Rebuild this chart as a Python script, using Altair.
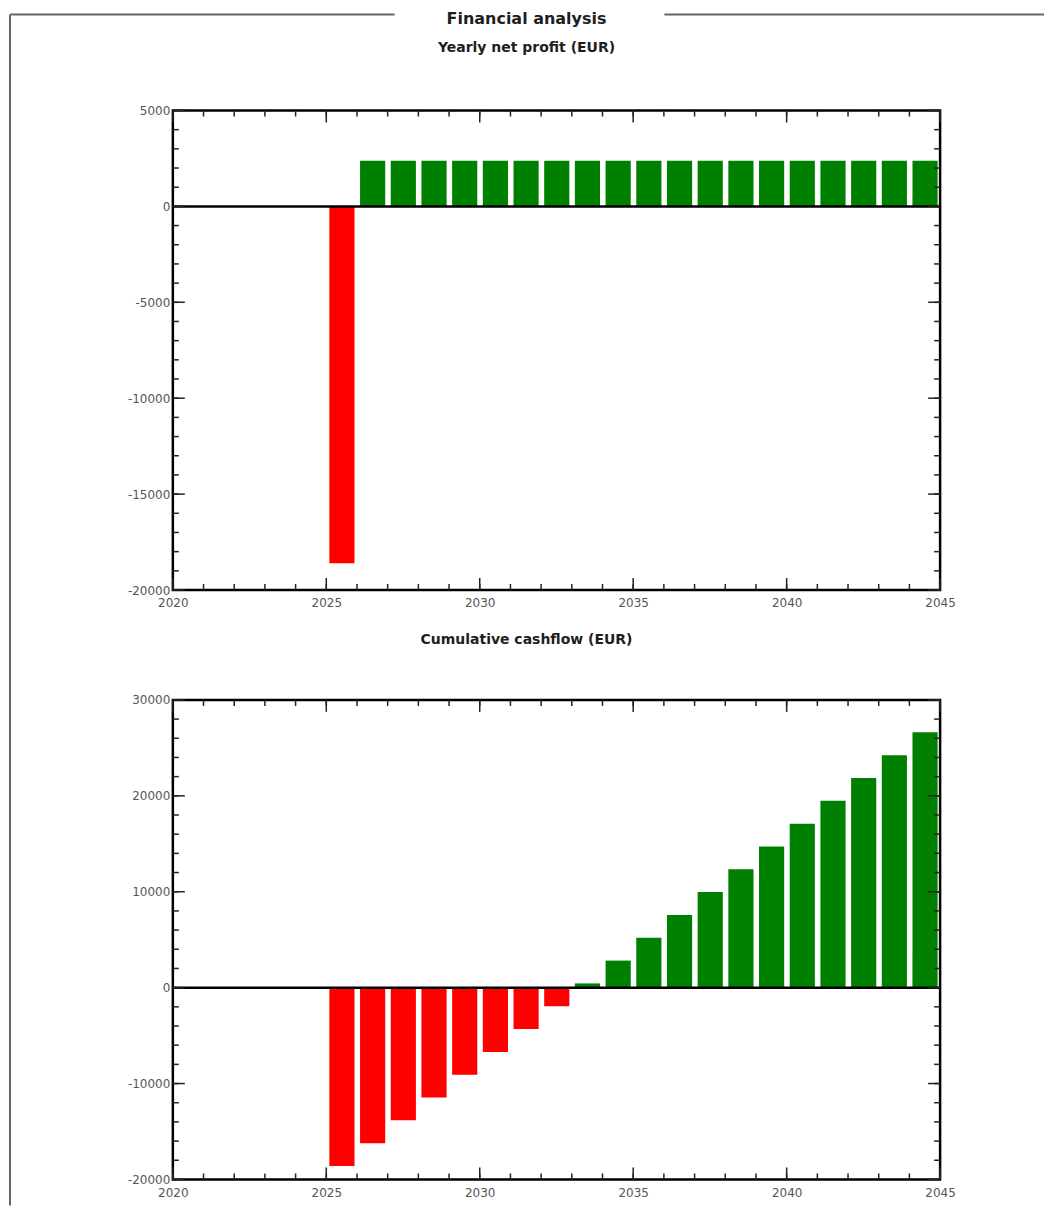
import altair as alt
import pandas as pd

# ---- data -----------------------------------------------------------------
years = [2025, 2026, 2027, 2028, 2029, 2030, 2031, 2032, 2033, 2034,
         2035, 2036, 2037, 2038, 2039, 2040, 2041, 2042, 2043, 2044]
yearly_profit = [-18600, 2380, 2380, 2380, 2380, 2380, 2380, 2380, 2380, 2380,
                 2380, 2380, 2380, 2380, 2380, 2380, 2380, 2380, 2380, 2380]
cumulative_cashflow = [-18600, -16220, -13840, -11460, -9080, -6700, -4320, -1940, 440, 2820,
                       5200, 7580, 9960, 12340, 14720, 17100, 19480, 21860, 24240, 26620]

x_domain = [2020, 2045]
x_major = [2020, 2025, 2030, 2035, 2040, 2045]
x_minor = list(range(2020, 2046))

profit_domain = [-20000, 5000]
profit_major = [-20000, -15000, -10000, -5000, 0, 5000]
profit_minor = list(range(-20000, 5001, 1000))

cash_domain = [-20000, 30000]
cash_major = [-20000, -10000, 0, 10000, 20000, 30000]
cash_minor = list(range(-20000, 30001, 2000))

# ---- styling ----------------------------------------------------------------
W, H = 768, 480
MAJOR_LEN, MINOR_LEN = 12, 6
TICK_COLOR = "#222222"
FRAME_COLOR = "#666666"
TEXT_COLOR = "#1e1e1e"
FONT = "DejaVu Sans"
TITLE_X = 354  # titles sit over the centre of the whole frame

one_row = pd.DataFrame({"k": [0]})


def panel(values, y_domain, y_major, y_minor, heading, heading_y, with_frame=False):
    xscale = alt.Scale(domain=x_domain, nice=False, zero=False)
    yscale = alt.Scale(domain=y_domain, nice=False, zero=False)
    xaxis = alt.Axis(values=x_major, ticks=False, domain=False, grid=False, title=None,
                     labelExpr="'' + datum.value", labelPadding=8, labelFlush=False)
    yaxis = alt.Axis(values=y_major, ticks=False, domain=False, grid=False, title=None,
                     labelExpr="'' + datum.value", labelPadding=3, labelFlush=False)

    bars_df = pd.DataFrame({"year": years, "value": values})
    bars_df["start"] = bars_df["year"] + 0.1
    bars_df["end"] = bars_df["year"] + 0.92

    bars = alt.Chart(bars_df).mark_bar().encode(
        x=alt.X("start:Q", scale=xscale, axis=xaxis),
        x2="end:Q",
        y=alt.Y("value:Q", scale=yscale, axis=yaxis),
        y2=alt.datum(0),
        color=alt.condition("datum.value < 0", alt.value("#ff0000"), alt.value("#008000")),
    )

    zero_line = alt.Chart(one_row).mark_rule(color="black", strokeWidth=2.5).encode(
        y=alt.datum(0)
    )

    layers = [bars, zero_line]

    # inward-pointing ticks on all four sides
    for tick_values, length in ((x_minor, MINOR_LEN), (x_major, MAJOR_LEN)):
        base = alt.Chart(pd.DataFrame({"t": tick_values})).mark_rule(
            color=TICK_COLOR, strokeWidth=1.5)
        xe = alt.X("t:Q", scale=xscale, axis=xaxis)
        layers.append(base.encode(x=xe, y=alt.value(H), y2=alt.value(H - length)))
        layers.append(base.encode(x=xe, y=alt.value(0), y2=alt.value(length)))
    for tick_values, length in ((y_minor, MINOR_LEN), (y_major, MAJOR_LEN)):
        base = alt.Chart(pd.DataFrame({"t": tick_values})).mark_rule(
            color=TICK_COLOR, strokeWidth=1.5)
        ye = alt.Y("t:Q", scale=yscale, axis=yaxis)
        layers.append(base.encode(y=ye, x=alt.value(0), x2=alt.value(length)))
        layers.append(base.encode(y=ye, x=alt.value(W), x2=alt.value(W - length)))

    layers.append(
        alt.Chart(one_row).mark_text(text=heading, font=FONT, fontSize=14, fontWeight="bold",
                                     color=TEXT_COLOR, align="center", baseline="middle")
        .encode(x=alt.value(TITLE_X), y=alt.value(heading_y))
    )

    if with_frame:
        frame = alt.Chart(one_row).mark_rule(color=FRAME_COLOR, strokeWidth=2)
        layers += [
            frame.encode(x=alt.value(-163), y=alt.value(-96), y2=alt.value(1096)),
            frame.encode(x=alt.value(-163), x2=alt.value(222), y=alt.value(-96)),
            frame.encode(x=alt.value(492), x2=alt.value(872), y=alt.value(-96)),
            alt.Chart(one_row).mark_text(text="Financial analysis", font=FONT, fontSize=16,
                                         fontWeight="bold", color=TEXT_COLOR,
                                         align="center", baseline="middle")
            .encode(x=alt.value(TITLE_X), y=alt.value(-92)),
        ]

    return alt.layer(*layers).properties(width=W, height=H)


top = panel(yearly_profit, profit_domain, profit_major, profit_minor,
            "Yearly net profit (EUR)", -63, with_frame=True)
bottom = panel(cumulative_cashflow, cash_domain, cash_major, cash_minor,
               "Cumulative cashflow (EUR)", -60)

chart = (
    alt.vconcat(top, bottom, spacing=110, bounds="flush")
    .properties(padding={"left": 7, "top": 8, "right": 0, "bottom": 0}, background="white")
    .configure_view(stroke="black", strokeWidth=2.5)
    .configure_axis(labelFont=FONT, labelFontSize=12, labelColor="#555555")
)

chart.save("out.html", embed_options={"renderer": "svg", "actions": False})
